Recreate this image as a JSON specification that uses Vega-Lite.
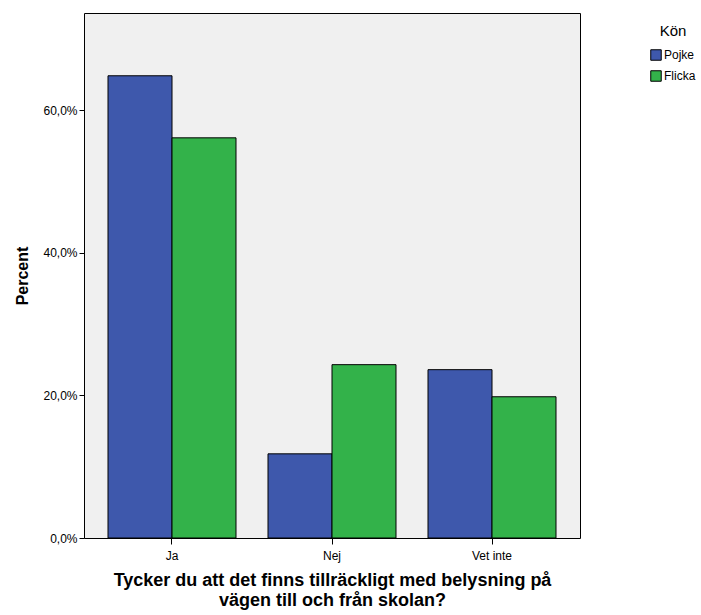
{
  "$schema": "https://vega.github.io/schema/vega-lite/v6.json",
  "width": 496,
  "height": 525,
  "autosize": {"type": "none"},
  "padding": {"left": 84, "top": 13, "right": 121, "bottom": 77},
  "background": "white",
  "config": {
    "locale": {"number": {"decimal": ",", "thousands": " ", "grouping": [3], "currency": ["", " kr"]}},
    "font": "Liberation Sans",
    "view": {"fill": "#F0F0F0", "stroke": "#000000", "strokeWidth": 1}
  },
  "data": {
    "values": [
      {"svar": "Ja", "kon": "Pojke", "andel": 0.648},
      {"svar": "Ja", "kon": "Flicka", "andel": 0.561},
      {"svar": "Nej", "kon": "Pojke", "andel": 0.118},
      {"svar": "Nej", "kon": "Flicka", "andel": 0.243},
      {"svar": "Vet inte", "kon": "Pojke", "andel": 0.236},
      {"svar": "Vet inte", "kon": "Flicka", "andel": 0.198}
    ]
  },
  "mark": {"type": "bar", "stroke": "#000000", "strokeWidth": 1},
  "encoding": {
    "x": {
      "field": "svar", "type": "nominal", "sort": ["Ja", "Nej", "Vet inte"],
      "scale": {"paddingInner": 0.2, "paddingOuter": 0.15},
      "axis": {
        "title": ["Tycker du att det finns tillräckligt med belysning på", "vägen till och från skolan?"],
        "titleFontSize": 18, "titleFontWeight": "bold", "titleColor": "#000000", "titlePadding": 10, "titleLineHeight": 20,
        "labelAngle": 0, "labelFontSize": 12, "labelColor": "#000000", "labelPadding": 6,
        "domain": false, "ticks": true, "tickColor": "#000000", "tickSize": 6, "grid": false
      }
    },
    "xOffset": {"field": "kon", "type": "nominal", "sort": ["Pojke", "Flicka"], "scale": {"paddingInner": 0, "paddingOuter": 0}},
    "y": {
      "field": "andel", "type": "quantitative",
      "scale": {"domain": [0, 0.736], "nice": false, "zero": true},
      "axis": {
        "title": "Percent", "titleFontSize": 16, "titleFontWeight": "bold", "titleColor": "#000000", "titlePadding": 12,
        "values": [0, 0.2, 0.4, 0.6], "format": ".1%",
        "labelFontSize": 12, "labelColor": "#000000", "labelPadding": 2,
        "domain": false, "ticks": true, "tickColor": "#000000", "tickSize": 5, "grid": false
      }
    },
    "fill": {
      "field": "kon", "type": "nominal", "sort": ["Pojke", "Flicka"],
      "scale": {"domain": ["Pojke", "Flicka"], "range": ["#3E58AC", "#33B24A"]},
      "legend": {
        "title": "Kön", "orient": "none", "legendX": 566, "legendY": 11,
        "titleFontSize": 15, "titleFontWeight": "normal", "titleColor": "#000000", "titleAnchor": "middle", "titlePadding": 10,
        "labelFontSize": 12, "labelColor": "#000000", "labelOffset": 2,
        "symbolType": "square", "symbolSize": 110, "symbolStrokeColor": "#000000", "symbolStrokeWidth": 1, "symbolOpacity": 1,
        "rowPadding": 5
      }
    }
  }
}
